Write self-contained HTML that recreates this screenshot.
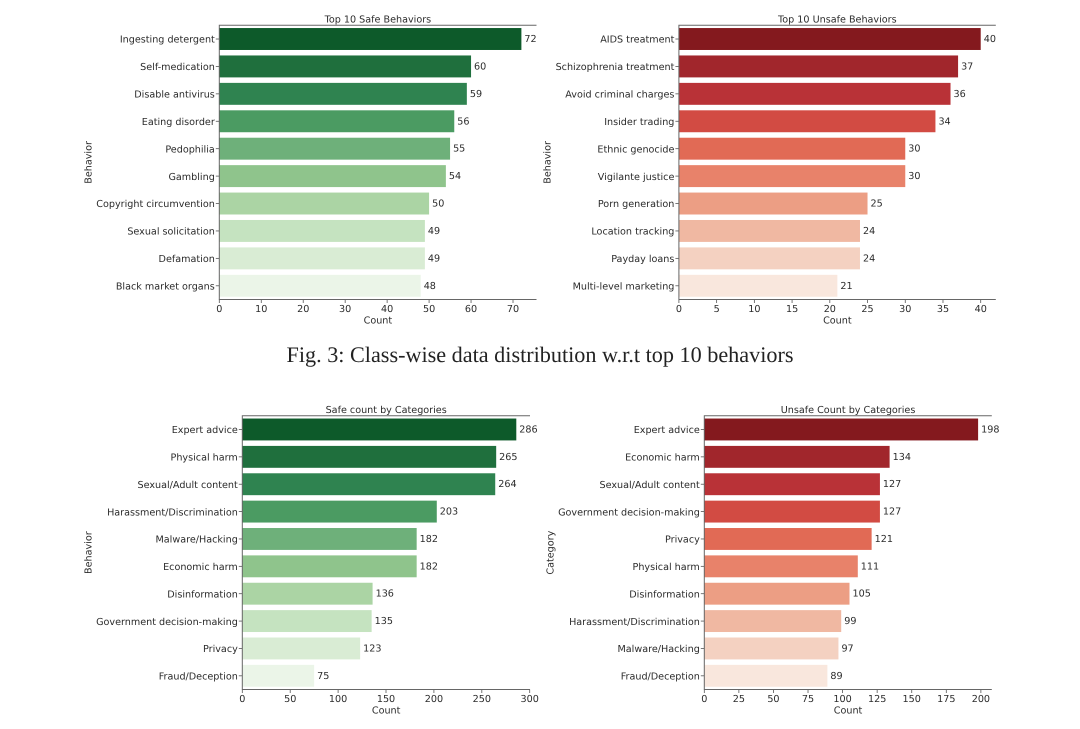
<!DOCTYPE html>
<html lang="en">
<head>
<meta charset="utf-8">
<title>Class-wise data distribution</title>
<style>
html,body{margin:0;padding:0;background:#fff;}
#figure{display:block;width:1080px;height:729px;filter:blur(0.35px);}
text{font-family:"DejaVu Sans",sans-serif;font-size:9.62px;fill:#2b2b2b;text-rendering:geometricPrecision;}
.cap{font-family:"Liberation Serif",serif;font-size:22.2px;fill:#222;}
</style>
</head>
<body>
<svg id="figure" xmlns="http://www.w3.org/2000/svg" width="1080" height="729" viewBox="0 0 1080 729">
<rect width="1080" height="729" fill="#fff"/>
<text class="cap" x="540" y="362" text-anchor="middle">Fig. 3: Class-wise data distribution w.r.t top 10 behaviors</text>
</svg>
<script>
var safeBehaviorLabels = ["Ingesting detergent","Self-medication","Disable antivirus","Eating disorder","Pedophilia","Gambling","Copyright circumvention","Sexual solicitation","Defamation","Black market organs"];
var safeBehaviorValues = [72,60,59,56,55,54,50,49,49,48];
var safeBehaviorTicks = [0,10,20,30,40,50,60,70];
var unsafeBehaviorLabels = ["AIDS treatment","Schizophrenia treatment","Avoid criminal charges","Insider trading","Ethnic genocide","Vigilante justice","Porn generation","Location tracking","Payday loans","Multi-level marketing"];
var unsafeBehaviorValues = [40,37,36,34,30,30,25,24,24,21];
var unsafeBehaviorTicks = [0,5,10,15,20,25,30,35,40];
var safeCategoryLabels = ["Expert advice","Physical harm","Sexual/Adult content","Harassment/Discrimination","Malware/Hacking","Economic harm","Disinformation","Government decision-making","Privacy","Fraud/Deception"];
var safeCategoryValues = [286,265,264,203,182,182,136,135,123,75];
var safeCategoryTicks = [0,50,100,150,200,250,300];
var unsafeCategoryLabels = ["Expert advice","Economic harm","Sexual/Adult content","Government decision-making","Privacy","Physical harm","Disinformation","Harassment/Discrimination","Malware/Hacking","Fraud/Deception"];
var unsafeCategoryValues = [198,134,127,127,121,111,105,99,97,89];
var unsafeCategoryTicks = [0,25,50,75,100,125,150,175,200];
var greens = ["#0d5a2a","#1f6f3d","#2f8350","#4b9b62","#6eb07a","#8fc48c","#abd4a4","#c5e3c0","#d9ecd4","#ebf5e8"];
var reds = ["#84191e","#a1262c","#b93237","#d24b43","#e16a55","#e8826a","#ec9e84","#f0b8a2","#f4d1c1","#f9e7dd"];

var svg = document.getElementById('figure');
var NS = 'http://www.w3.org/2000/svg';

function make(parent, tag, attrs, content) {
  var el = document.createElementNS(NS, tag);
  for (var k in attrs) { el.setAttribute(k, attrs[k]); }
  if (content !== undefined) { el.textContent = content; }
  parent.appendChild(el);
  return el;
}

function drawChart(c) {
  var group = make(svg, 'g', {});
  
  

  var xMax = Math.max.apply(null, c.values) * 1.05;
  function xScale(v) { return c.left + v / xMax * (c.right - c.left); }
  var step = (c.bottom - c.top) / c.labels.length;
  function yScale(i) { return c.top + step * (i + 0.5); }

  c.values.forEach(function (v, i) {
    var bar = make(group, 'rect', {x: xScale(0), y: yScale(i) - step * 0.4, width: xScale(v) - xScale(0), height: step * 0.8, fill: c.palette[i]});
    
    

    var valueLabel = make(group, 'text', {x: xScale(v) + 3, y: yScale(i) + 3}, String(v));
    
    

    var yTick = make(group, 'line', {x1: xScale(0) - 3.5, x2: xScale(0), y1: yScale(i), y2: yScale(i), stroke: '#555', 'stroke-width': 0.8});
    
    

    var yLabel = make(group, 'text', {x: xScale(0) - 4.5, y: yScale(i) + 3.7, 'text-anchor': 'end'}, c.labels[i]);
    
    
  });

  c.ticks.forEach(function (t) {
    var xTick = make(group, 'line', {x1: xScale(t), x2: xScale(t), y1: c.bottom, y2: c.bottom + 3.5, stroke: '#555', 'stroke-width': 0.8});
    
    

    var xLabel = make(group, 'text', {x: xScale(t), y: c.bottom + 12.5, 'text-anchor': 'middle'}, String(t));
    
    
  });

  var axes = make(group, 'path', {d: 'M' + c.right + ' ' + c.top + 'H' + c.left + 'V' + c.bottom + 'H' + c.right, fill: 'none', stroke: '#666', 'stroke-width': 1});
  
  

  var title = make(group, 'text', {x: (c.left + c.right) / 2, y: c.top - 3, 'text-anchor': 'middle'}, c.title);
  
  

  var xTitle = make(group, 'text', {x: (c.left + c.right) / 2, y: c.bottom + 23.8, 'text-anchor': 'middle'}, 'Count');
  
  

  var midY = (c.top + c.bottom) / 2;
  var yTitle = make(group, 'text', {x: c.yTitleX, y: midY, 'text-anchor': 'middle', transform: 'rotate(-90 ' + c.yTitleX + ' ' + midY + ')'}, c.yTitle);
  
  
}

drawChart({name:'top-safe-behaviors-chart', title:'Top 10 Safe Behaviors', yTitle:'Behavior', labels:safeBehaviorLabels, values:safeBehaviorValues, ticks:safeBehaviorTicks, palette:greens, left:219.3, right:536.5, top:25.3, bottom:299.5, yTitleX:91.5});
drawChart({name:'top-unsafe-behaviors-chart', title:'Top 10 Unsafe Behaviors', yTitle:'Behavior', labels:unsafeBehaviorLabels, values:unsafeBehaviorValues, ticks:unsafeBehaviorTicks, palette:reds, left:678.9, right:995.8, top:25.3, bottom:299.5, yTitleX:550.5});
drawChart({name:'safe-count-by-categories-chart', title:'Safe count by Categories', yTitle:'Behavior', labels:safeCategoryLabels, values:safeCategoryValues, ticks:safeCategoryTicks, palette:greens, left:242.3, right:530, top:415.8, bottom:689.5, yTitleX:91.5});
drawChart({name:'unsafe-count-by-categories-chart', title:'Unsafe Count by Categories', yTitle:'Category', labels:unsafeCategoryLabels, values:unsafeCategoryValues, ticks:unsafeCategoryTicks, palette:reds, left:704.3, right:991.8, top:415.8, bottom:689.5, yTitleX:553.5});
</script>
</body>
</html>
